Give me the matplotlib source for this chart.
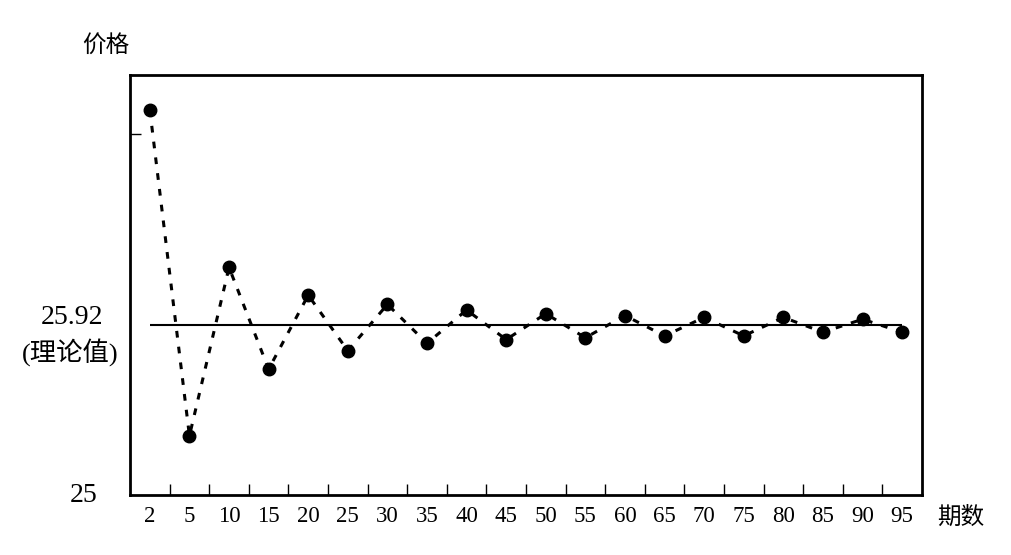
import matplotlib
matplotlib.use('Agg')
import matplotlib.pyplot as plt

# 期数与价格
periods = ['2', '5', '10', '15', '20', '25', '30', '35', '40', '45',
           '50', '55', '60', '65', '70', '75', '80', '85', '90', '95']
prices = [27.08, 25.32, 26.23, 25.68, 26.08, 25.78, 26.03, 25.82, 26.00, 25.84,
          25.98, 25.85, 25.97, 25.86, 25.96, 25.86, 25.96, 25.88, 25.95, 25.88]
theory = 25.92

serif = ['Liberation Serif', 'Noto Sans CJK SC']
cjk = ['Noto Sans CJK SC', 'DejaVu Sans']

fig = plt.figure(figsize=(10.12, 5.55), dpi=100)
ax = fig.add_axes([0.1285, 0.108, 0.7825, 0.757])

x = list(range(len(periods)))
ax.plot(x, prices, color='black', lw=2.2, dashes=(2.2, 3.0),
        marker='o', ms=9, mfc='black', mec='black', zorder=3)
ax.hlines(theory, x[0], x[-1], color='black', lw=1.5, zorder=2)

ax.set_xlim(-0.5, len(periods) - 0.5)
ax.set_ylim(25, 27.27)

# x轴：标签居中，刻度在类别之间
ax.set_xticks(x)
ax.set_xticklabels(periods, family=serif, fontsize=16.5)
ax.tick_params(axis='x', which='major', length=0, pad=8)
ax.set_xticks([i + 0.5 for i in x[:-1]], minor=True)
ax.tick_params(axis='x', which='minor', direction='in', length=8, width=1)

ax.set_yticks([])
ax.set_yticks([26.95], minor=True)
ax.tick_params(axis='y', which='minor', direction='in', length=8, width=1)
ax.set_yticklabels([], minor=True)

for s in ax.spines.values():
    s.set_linewidth(2)

ytr = ax.get_yaxis_transform()
ax.text(-0.059, 25, '25', transform=ytr, ha='center', va='center',
        family=serif, fontsize=20)
ax.annotate('25.92', xy=(-0.073, theory), xycoords=ytr,
            xytext=(0, 7), textcoords='offset pixels',
            ha='center', va='center', family=serif, fontsize=20)
ax.annotate('(理论值)', xy=(-0.076, theory), xycoords=ytr,
            xytext=(0, -27), textcoords='offset pixels',
            ha='center', va='center', family=serif, fontsize=19)

fig.text(0.105, 0.918, '价格', ha='center', va='center', family=cjk, fontsize=17)
fig.text(0.949, 0.068, '期数', ha='center', va='center', family=cjk, fontsize=17)

fig.savefig('out.png', dpi=100)
